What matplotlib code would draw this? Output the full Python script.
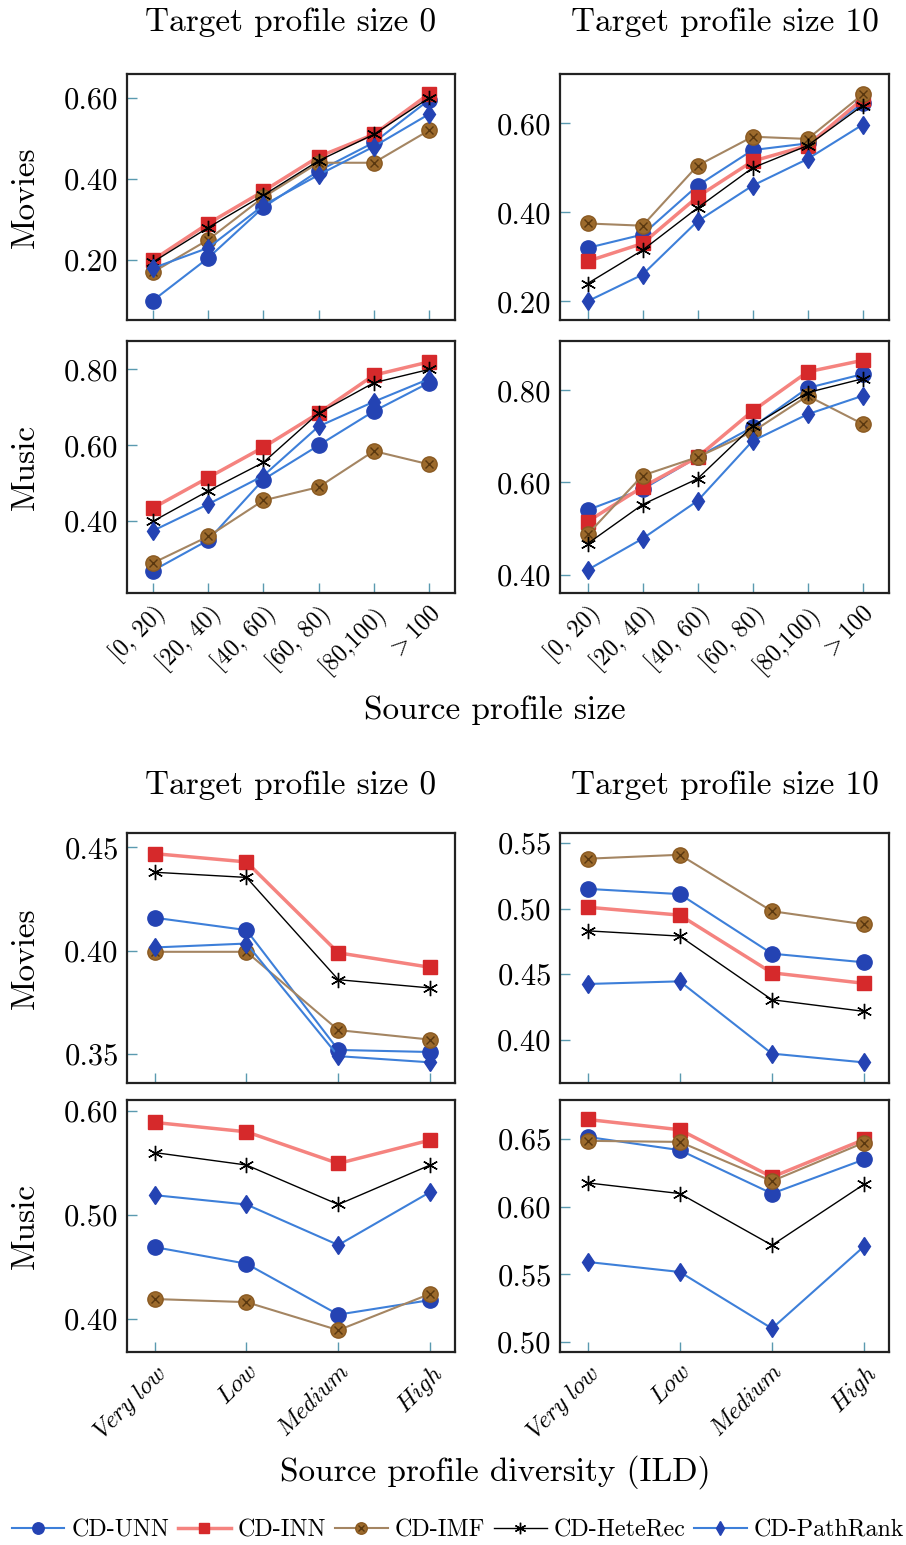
import numpy as np
import matplotlib
matplotlib.use('Agg')
import matplotlib.pyplot as plt
from matplotlib.lines import Line2D

plt.rcParams['font.family'] = ['cmr10', 'DejaVu Serif']
plt.rcParams['mathtext.fontset'] = 'cm'
plt.rcParams['axes.unicode_minus'] = False
plt.rcParams['axes.formatter.use_mathtext'] = True

# methods in legend order
methods = ['CD-UNN', 'CD-INN', 'CD-IMF', 'CD-HeteRec', 'CD-PathRank']
size_labels = ['[0, 20)', '[20, 40)', '[40, 60)', '[60, 80)', '[80,100)', '$>$100']
ild_labels = [r'$\mathit{Very\ low}$', r'$\mathit{Low}$', r'$\mathit{Medium}$', r'$\mathit{High}$']

# source profile size, rows = methods (UNN, INN, IMF, HeteRec, PathRank)
movies_size_t0 = [
    [0.10, 0.205, 0.33, 0.42, 0.49, 0.595],
    [0.20, 0.29, 0.37, 0.455, 0.51, 0.61],
    [0.17, 0.25, 0.355, 0.44, 0.44, 0.52],
    [0.195, 0.28, 0.36, 0.445, 0.51, 0.60],
    [0.18, 0.23, 0.335, 0.41, 0.48, 0.56],
]
movies_size_t10 = [
    [0.32, 0.35, 0.46, 0.54, 0.555, 0.645],
    [0.29, 0.33, 0.435, 0.515, 0.55, 0.655],
    [0.375, 0.37, 0.505, 0.57, 0.565, 0.665],
    [0.24, 0.315, 0.41, 0.50, 0.55, 0.64],
    [0.20, 0.26, 0.38, 0.46, 0.52, 0.597],
]
music_size_t0 = [
    [0.27, 0.35, 0.51, 0.60, 0.69, 0.765],
    [0.435, 0.515, 0.595, 0.685, 0.785, 0.82],
    [0.29, 0.36, 0.455, 0.49, 0.585, 0.55],
    [0.40, 0.48, 0.555, 0.685, 0.765, 0.80],
    [0.375, 0.445, 0.52, 0.65, 0.715, 0.775],
]
music_size_t10 = [
    [0.54, 0.585, 0.655, 0.72, 0.805, 0.835],
    [0.515, 0.59, 0.655, 0.755, 0.84, 0.865],
    [0.487, 0.615, 0.655, 0.71, 0.788, 0.727],
    [0.467, 0.552, 0.608, 0.722, 0.795, 0.825],
    [0.41, 0.478, 0.56, 0.69, 0.748, 0.788],
]

# source profile diversity (ILD)
movies_ild_t0 = [
    [0.416, 0.410, 0.352, 0.351],
    [0.447, 0.443, 0.399, 0.392],
    [0.3995, 0.3995, 0.3616, 0.357],
    [0.438, 0.4355, 0.386, 0.382],
    [0.4016, 0.4035, 0.349, 0.346],
]
movies_ild_t10 = [
    [0.515, 0.511, 0.4656, 0.459],
    [0.501, 0.495, 0.451, 0.443],
    [0.538, 0.541, 0.498, 0.488],
    [0.483, 0.479, 0.4305, 0.4216],
    [0.4425, 0.4445, 0.3894, 0.3827],
]
music_ild_t0 = [
    [0.469, 0.453, 0.404, 0.418],
    [0.589, 0.580, 0.5495, 0.572],
    [0.419, 0.416, 0.389, 0.424],
    [0.560, 0.548, 0.510, 0.548],
    [0.519, 0.510, 0.471, 0.522],
]
music_ild_t10 = [
    [0.6517, 0.6419, 0.6098, 0.635],
    [0.6646, 0.657, 0.622, 0.6498],
    [0.6488, 0.648, 0.619, 0.6475],
    [0.6177, 0.6098, 0.5716, 0.6167],
    [0.5592, 0.5518, 0.510, 0.5708],
]

styles = [
    dict(color='#3d7fd9', lw=1.5, marker='o', ms=11, mfc='#2443b3', mec='#2443b3'),
    dict(color='#f5837f', lw=2.5, marker='s', ms=10, mfc='#d6292b', mec='#d6292b'),
    dict(color='#a48562', lw=1.5, marker='o', ms=11, mfc='#9c6a2c', mec='#8a5a22'),
    dict(color='black', lw=1.0, marker=(6, 2, 0), ms=11, mfc='black', mec='black', mew=1.0),
    dict(color='#3d7fd9', lw=1.5, marker='d', ms=9.5, mfc='#2443b3', mec='#2443b3'),
]
otimes = dict(ls='none', marker='x', ms=6, mew=1.0, color='#5a3810')

fig = plt.figure(figsize=(9.06, 15.45), dpi=100)
W, H = 906, 1545


def add_ax(x0, x1, y0, y1):
    return fig.add_axes([x0 / W, 1 - y1 / H, (x1 - x0) / W, (y1 - y0) / H])


def draw(ax, data, labels, xlim, ylim, yticks, show_x):
    x = np.arange(len(labels))
    for i, vals in enumerate(data):
        ax.plot(x, vals, **styles[i], zorder=2 + i)
        if i == 2:
            ax.plot(x, vals, **otimes, zorder=2 + i)
    ax.set_xlim(*xlim)
    ax.set_ylim(*ylim)
    ax.set_yticks(yticks)
    ax.set_yticklabels(['%.2f' % t for t in yticks], fontsize=22)
    ax.set_xticks(x)
    if show_x:
        ax.set_xticklabels(labels, rotation=45, ha='right', rotation_mode='anchor', fontsize=17.5)
    else:
        ax.set_xticklabels([])
    ax.tick_params(direction='in', length=7, width=1.0, color='#5a9ab0', pad=6)
    for s in ax.spines.values():
        s.set_linewidth(1.6)
        s.set_color('#222222')


xl_left, xl_right = (127, 455), (560, 889)
rows = [(74, 320), (341, 593), (833, 1083), (1100, 1352)]

ax = add_ax(*xl_left, *rows[0])
draw(ax, movies_size_t0, size_labels, (-0.47, 5.47), (0.052, 0.659), [0.2, 0.4, 0.6], False)
ax = add_ax(*xl_right, *rows[0])
draw(ax, movies_size_t10, size_labels, (-0.5, 5.48), (0.158, 0.711), [0.2, 0.4, 0.6], False)
ax = add_ax(*xl_left, *rows[1])
draw(ax, music_size_t0, size_labels, (-0.47, 5.47), (0.211, 0.875), [0.4, 0.6, 0.8], True)
ax = add_ax(*xl_right, *rows[1])
draw(ax, music_size_t10, size_labels, (-0.5, 5.48), (0.36, 0.907), [0.4, 0.6, 0.8], True)

ax = add_ax(*xl_left, *rows[2])
draw(ax, movies_ild_t0, ild_labels, (-0.3, 3.27), (0.336, 0.457), [0.35, 0.40, 0.45], False)
ax = add_ax(*xl_right, *rows[2])
draw(ax, movies_ild_t10, ild_labels, (-0.3, 3.27), (0.367, 0.5576), [0.40, 0.45, 0.50, 0.55], False)
ax = add_ax(*xl_left, *rows[3])
draw(ax, music_ild_t0, ild_labels, (-0.3, 3.27), (0.368, 0.6106), [0.40, 0.50, 0.60], True)
ax = add_ax(*xl_right, *rows[3])
draw(ax, music_ild_t10, ild_labels, (-0.3, 3.27), (0.4926, 0.679), [0.50, 0.55, 0.60, 0.65], True)

# titles, row labels, axis labels
for cx, txt in [(291, 'Target profile size 0'), (725, 'Target profile size 10')]:
    fig.text(cx / W, 1 - 22 / H, txt, ha='center', va='center', fontsize=24)
    fig.text(cx / W, 1 - 785 / H, txt, ha='center', va='center', fontsize=24)
for (y0, y1), txt in zip(rows, ['Movies', 'Music', 'Movies', 'Music']):
    fig.text(25 / W, 1 - (y0 + y1) / 2 / H, txt, rotation=90, ha='center', va='center', fontsize=24)
fig.text(495 / W, 1 - 710 / H, 'Source profile size', ha='center', va='center', fontsize=24)
fig.text(495 / W, 1 - 1472 / H, 'Source profile diversity (ILD)', ha='center', va='center', fontsize=24)

# legend
handles = []
for i, st in enumerate(styles):
    h = Line2D([], [], **{**st, 'ms': st['ms'] * 0.75})
    if i == 2:
        h = (h, Line2D([], [], **{**otimes, 'ms': 4}))
    handles.append(h)
fig.legend(handles, methods, loc='center', bbox_to_anchor=(458 / W, 1 - 1530 / H), ncol=5,
           frameon=False, fontsize=17.3, handlelength=2.2, handletextpad=0.3, columnspacing=0.35,
           borderpad=0.1)

fig.savefig('out.png', dpi=100)
